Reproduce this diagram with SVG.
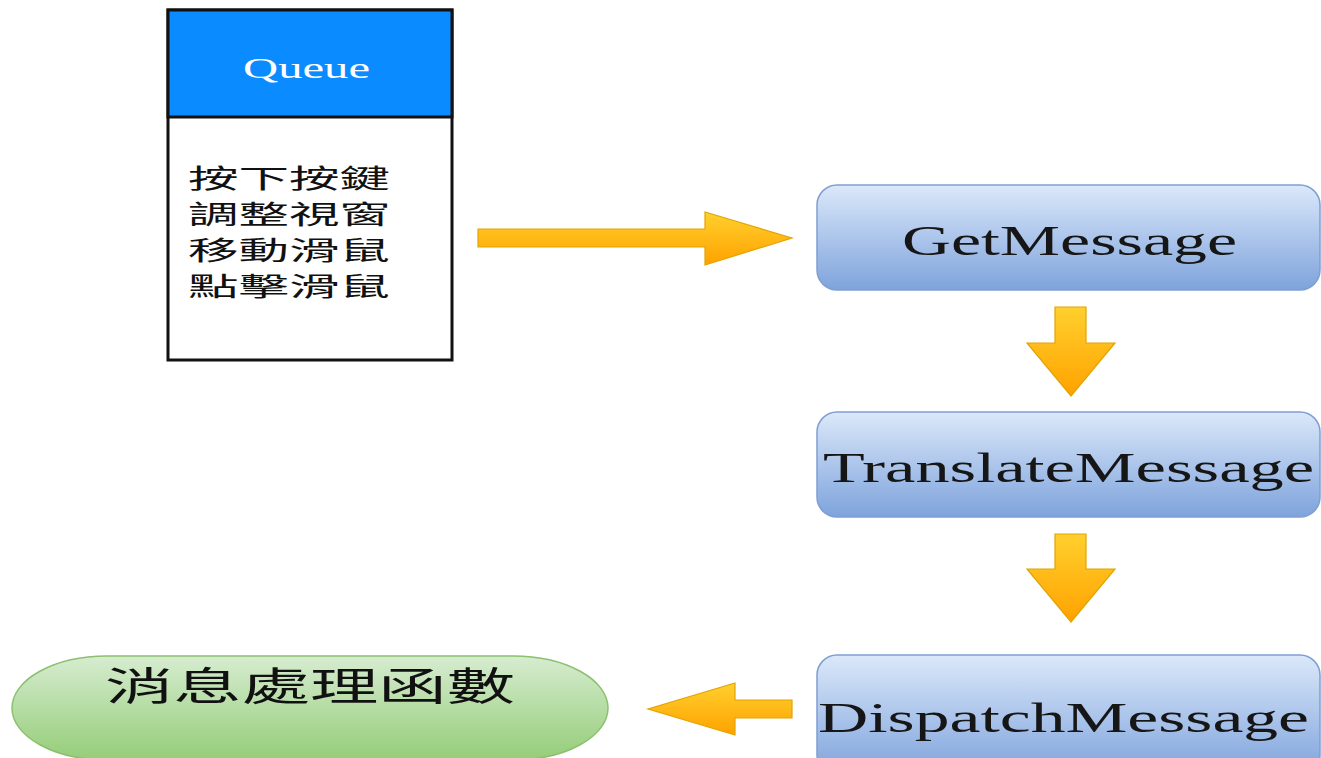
<svg xmlns="http://www.w3.org/2000/svg" width="1321" height="758" viewBox="0 0 1321 758">
<defs>
<linearGradient id="gBlue" x1="0" y1="0" x2="0" y2="1">
<stop offset="0" stop-color="#dbe8fa"/>
<stop offset="1" stop-color="#7ea3dc"/>
</linearGradient>
<linearGradient id="gGreen" x1="0" y1="0" x2="0" y2="1">
<stop offset="0" stop-color="#d6ecd0"/>
<stop offset="1" stop-color="#95cd78"/>
</linearGradient>
<linearGradient id="gArrow" x1="0" y1="0" x2="0" y2="1">
<stop offset="0" stop-color="#ffd02e"/>
<stop offset="1" stop-color="#ffa200"/>
</linearGradient>
<style>
.step{fill:url(#gBlue);stroke:#7f9fd2;stroke-width:1.5}
.lbl{font-family:"Liberation Serif","Times New Roman",serif;font-size:43px;fill:#161616}
.cjk{font-family:"Noto Sans CJK TC","Noto Sans CJK SC",sans-serif;fill:#111}
.arr{fill:url(#gArrow);stroke:#e2a400;stroke-width:1.2}
</style>
</defs>
<rect width="1321" height="758" fill="#ffffff"/>
<g id="queue">
<rect x="168" y="10" width="284" height="350" fill="#ffffff" stroke="#111" stroke-width="3"/>
<rect x="168" y="10" width="284" height="107" fill="#0a8bff" stroke="#111" stroke-width="3"/>
<text x="243" y="78" font-family="Liberation Serif,serif" font-size="30" fill="#ffffff" textLength="127" lengthAdjust="spacingAndGlyphs">Queue</text>
<text class="cjk" font-size="26" x="188" y="188" textLength="202" lengthAdjust="spacingAndGlyphs">按下按鍵</text>
<text class="cjk" font-size="26" x="188" y="224" textLength="202" lengthAdjust="spacingAndGlyphs">調整視窗</text>
<text class="cjk" font-size="26" x="188" y="260" textLength="202" lengthAdjust="spacingAndGlyphs">移動滑鼠</text>
<text class="cjk" font-size="26" x="188" y="296" textLength="202" lengthAdjust="spacingAndGlyphs">點擊滑鼠</text>
</g>
<g id="getmessage">
<rect class="step" x="817" y="185" width="503" height="105" rx="20" ry="20"/>
<text class="lbl" x="902" y="255" textLength="335" lengthAdjust="spacingAndGlyphs">GetMessage</text>
</g>
<g id="translatemessage">
<rect class="step" x="817" y="412" width="503" height="105" rx="20" ry="20"/>
<text class="lbl" x="823" y="482" textLength="491" lengthAdjust="spacingAndGlyphs">TranslateMessage</text>
</g>
<g id="dispatchmessage">
<rect class="step" x="817" y="655" width="503" height="120" rx="20" ry="20"/>
<text class="lbl" x="818" y="732" textLength="491" lengthAdjust="spacingAndGlyphs">DispatchMessage</text>
</g>
<g id="handler">
<rect x="12" y="656" width="596" height="104" rx="95" ry="52" fill="url(#gGreen)" stroke="#8cc070" stroke-width="1.5"/>
<text class="cjk" font-size="39" x="105" y="700" textLength="410" lengthAdjust="spacingAndGlyphs">消息處理函數</text>
</g>
<g id="connectors">
<polygon class="arr" points="478,229 705,229 705,212 792,238 705,265 705,247 478,247"/>
<polygon class="arr" points="1055,307 1086,307 1086,343 1115,343 1071,396 1027,343 1055,343"/>
<polygon class="arr" points="1055,534 1086,534 1086,569 1115,569 1071,622 1027,569 1055,569"/>
<polygon class="arr" points="792,700 735,700 735,683 648,709 735,735 735,718 792,718"/>
</g>
</svg>
